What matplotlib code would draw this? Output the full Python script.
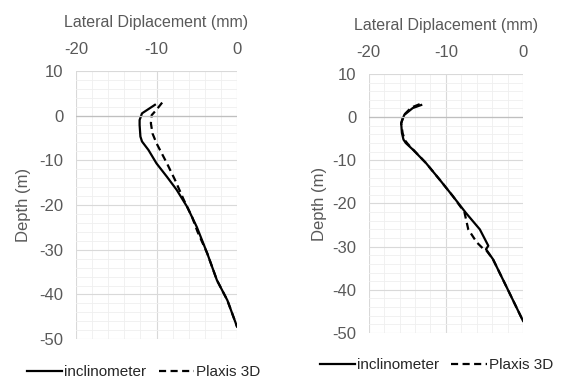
import numpy as np
import matplotlib
matplotlib.use("Agg")
import matplotlib.pyplot as plt
from matplotlib.ticker import MultipleLocator

plt.rcParams['font.family'] = ['Liberation Sans', 'DejaVu Sans']
plt.rcParams['axes.unicode_minus'] = False

# left panel
left_incl_x = [-10.2, -11.8, -12.1, -12.1, -12.0, -11.8, -11.0, -10.0, -8.7, -7.5, -6.2, -5.0, -3.7, -2.5, -1.2, 0.0]
left_incl_y = [2.4, 0.5, -1.0, -2.1, -4.7, -5.8, -7.7, -10.7, -13.7, -16.6, -20.4, -24.9, -30.8, -36.8, -41.3, -47.2]
left_plx_x = [-9.3, -10.0, -10.6, -10.7, -10.5, -10.0, -8.7, -7.7, -6.6, -5.6, -4.9, -3.7, -2.5, -1.2, 0.0]
left_plx_y = [2.9, 1.3, 0.1, -1.7, -4.0, -6.2, -10.7, -14.4, -18.9, -22.6, -26.0, -30.8, -36.8, -41.3, -47.2]

# right panel
right_incl_x = [-13.2, -14.3, -15.4, -15.8, -15.7, -15.5, -15.2, -14.3, -12.6, -10.8, -9.1, -7.4, -5.6, -4.5, -4.8, -3.9, -2.2, 0.0]
right_incl_y = [2.8, 2.1, 0.5, -1.4, -3.7, -5.2, -6.0, -7.5, -10.6, -14.5, -18.3, -22.2, -26.0, -29.8, -30.6, -32.9, -39.1, -47.2]
right_plx_x = [-13.4, -14.5, -15.5, -15.8, -15.6, -15.3, -14.9, -14.2, -12.6, -10.8, -9.1, -7.6, -7.1, -6.0, -5.1, -4.7, -3.9, -2.2, 0.0]
right_plx_y = [3.0, 2.2, 0.4, -1.5, -3.8, -5.4, -6.3, -7.6, -10.6, -14.5, -18.3, -22.0, -26.0, -29.0, -30.6, -31.0, -32.9, -39.1, -47.2]

grey = '#595959'

fig = plt.figure(figsize=(5.63, 3.85), dpi=100)
ax1 = fig.add_axes([0.135, 0.119, 0.286, 0.697])
ax2 = fig.add_axes([0.655, 0.135, 0.274, 0.673])

panels = [
    (ax1, left_incl_x, left_incl_y, left_plx_x, left_plx_y, (0.255, 0.034), 6),
    (ax2, right_incl_x, right_incl_y, right_plx_x, right_plx_y, (0.775, 0.052), 4),
]

for ax, ix, iy, px, py, leg_pos, ylpad in panels:
    ax.plot(ix, iy, color='black', lw=1.6, label='inclinometer')
    ax.plot(px, py, color='black', lw=1.6, ls=(0, (3.2, 2.0)), label='Plaxis 3D')
    ax.set_xlim(-20, 0)
    ax.set_ylim(-50, 10)
    ax.xaxis.set_major_locator(MultipleLocator(10))
    ax.xaxis.set_minor_locator(MultipleLocator(2))
    ax.yaxis.set_major_locator(MultipleLocator(10))
    ax.yaxis.set_minor_locator(MultipleLocator(2))
    ax.grid(which='major', color='#d9d9d9', lw=0.8)
    ax.grid(which='minor', color='#efefef', lw=0.6)
    ax.axhline(0, color='#bfbfbf', lw=0.9)
    ax.set_axisbelow(True)
    for s in ax.spines.values():
        s.set_visible(False)
    ax.xaxis.tick_top()
    ax.xaxis.set_label_position('top')
    ax.tick_params(which='both', length=0, labelsize=12, colors=grey)
    ax.tick_params(axis='x', pad=10)
    ax.tick_params(axis='y', pad=9)
    ax.set_xlabel('Lateral Diplacement (mm)', fontsize=11.5, color=grey, labelpad=11)
    ax.set_ylabel('Depth (m)', fontsize=12, color=grey, labelpad=ylpad)
    ax.legend(loc='center', bbox_to_anchor=leg_pos, bbox_transform=fig.transFigure,
              ncol=2, frameon=False, fontsize=11, handlelength=2.3, handletextpad=0.15,
              columnspacing=0.8, labelcolor='#262626', borderpad=0)

fig.savefig('out.png', dpi=100)
